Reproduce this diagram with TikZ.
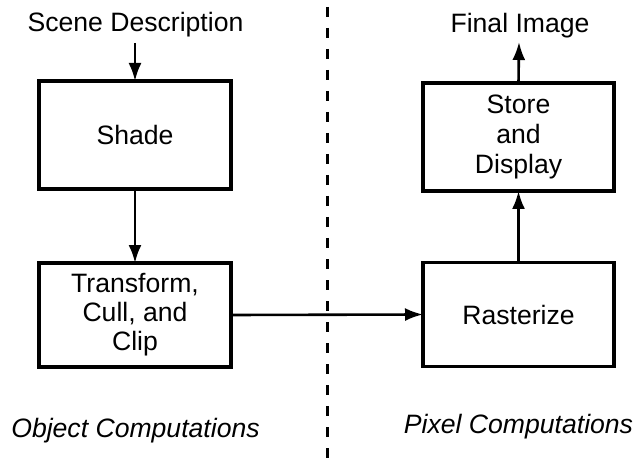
\documentclass[tikz,border=0pt]{standalone}
\usepackage{fontspec}
\setmainfont{Liberation Sans}
\usetikzlibrary{arrows.meta}
\begin{document}
\begin{tikzpicture}[x=0.5pt,y=-0.5pt,
  every node/.style={font=\fontsize{13.3}{14.5}\selectfont, inner sep=0pt, outer sep=0pt},
  box/.style={draw, line width=1.6pt, align=center, minimum width=96pt},
  conn/.style={line width=1.3pt, -{Latex[length=9pt,width=6.5pt]}},
  lbl/.style={anchor=base},
  divider/.style={line width=1.5pt, dash pattern=on 5pt off 5.5pt}]
\useasboundingbox (0,0) rectangle (635,459);
% boxes
\node[box, minimum height=54pt] (shade) at (135,135) {Shade};
\node[box, minimum height=52pt] (xform) at (135,315) {Transform,\\Cull, and\\Clip};
\node[box, minimum width=95.5pt, minimum height=54pt, font=\fontsize{13.3}{15}\selectfont] (store) at (518.5,137) {Store\\and\\Display};
\node[box, minimum width=95.5pt, minimum height=52pt] (raster) at (518.5,314.5) {Rasterize};
% labels
\node[lbl] (scene) at (135.5,32) {Scene Description};
\node[lbl] (final) at (520,33) {Final Image};
\node[lbl, font=\fontsize{13.3}{14.5}\selectfont\itshape] (objc) at (135.5,437) {Object Computations};
\node[lbl, font=\fontsize{13.3}{14.5}\selectfont\itshape] (pixc) at (518.5,433) {Pixel Computations};
% divider
\coordinate (dtop) at (327,7);
\coordinate (dbot) at (327,458);
\draw[divider] (dtop) -- (dbot);
% connectors
\coordinate (scenefoot) at (135,43);
\coordinate (finalfoot) at (519,42);
\draw[conn] (scenefoot) -- (shade.north);
\draw[conn] (shade.south) -- (xform.north);
\draw[conn] (xform.east) -- (raster.west);
\draw[conn] (raster.north -| store.south) -- (store.south);
\draw[conn] (store.north) -- (finalfoot);
\end{tikzpicture}
\end{document}
